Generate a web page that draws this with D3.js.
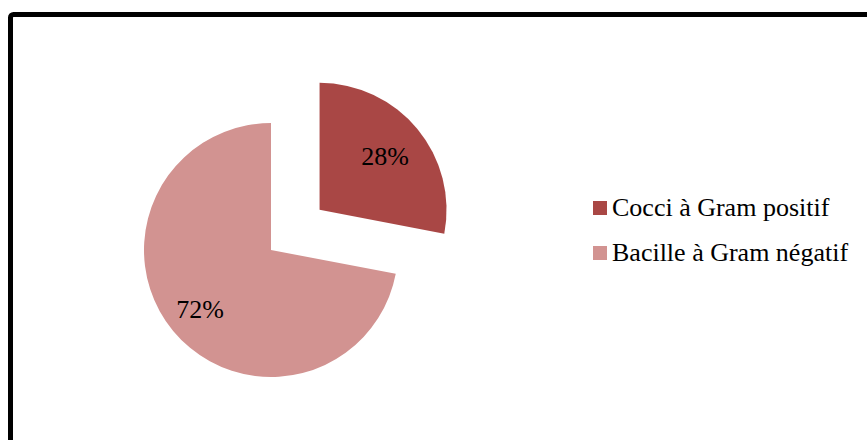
<!DOCTYPE html>
<html>
<head>
<meta charset="utf-8">
<script src="https://cdn.jsdelivr.net/npm/d3@7"></script>
<style>
  html, body { margin: 0; padding: 0; background: #fff; }
  svg { display: block; }
</style>
</head>
<body>
<svg id="chart" width="867" height="440"></svg>
<script>
// Data
const categories = ["Cocci à Gram positif", "Bacille à Gram négatif"];
const values = [28, 72];
const labels = ["28%", "72%"];
const colors = ["#A94745", "#D29391"];
const exploded = [true, false];

const svg = d3.select("#chart");
const font = "'Liberation Serif', 'Times New Roman', serif";

// Chart frame (runs past the right and bottom edges)
svg.append("rect")
  .attr("x", 10.5).attr("y", 14.5)
  .attr("width", 900).attr("height", 460)
  .attr("rx", 3)
  .attr("fill", "none")
  .attr("stroke", "#000")
  .attr("stroke-width", 5);

const cx = 271, cy = 250, radius = 127, explodeDist = 63;
const labelRadiusRatio = [0.67, 0.725];

const pie = d3.pie().sort(null).value(d => d)
  .startAngle(0).endAngle(2 * Math.PI);
const arcs = pie(values);
const arc = d3.arc().innerRadius(0).outerRadius(radius);

const g = svg.append("g").attr("transform", `translate(${cx},${cy})`);

const slices = g.selectAll("g.slice").data(arcs).join("g")
  .attr("class", "slice")
  .attr("transform", (d, i) => {
    if (!exploded[i]) return null;
    const mid = (d.startAngle + d.endAngle) / 2;
    return `translate(${Math.sin(mid) * explodeDist},${-Math.cos(mid) * explodeDist})`;
  });

slices.append("path")
  .attr("d", arc)
  .attr("fill", (d, i) => colors[i]);

// Percentage labels placed inside slices
slices.append("text")
  .attr("transform", (d, i) => {
    const r = radius * labelRadiusRatio[i];
    const c = d3.arc().innerRadius(r).outerRadius(r).centroid(d);
    return `translate(${c[0]},${c[1]})`;
  })
  .attr("text-anchor", "middle")
  .attr("dy", "0.35em")
  .attr("font-family", font)
  .attr("font-size", 26)
  .attr("fill", "#000")
  .text((d, i) => labels[i]);

// Legend
const legend = svg.append("g").attr("transform", "translate(593,201)");
const items = legend.selectAll("g").data(categories).join("g")
  .attr("transform", (d, i) => `translate(0,${i * 45})`);
items.append("rect")
  .attr("width", 14).attr("height", 14)
  .attr("fill", (d, i) => colors[i]);
items.append("text")
  .attr("x", 19).attr("y", 15)
  .attr("font-family", font)
  .attr("font-size", 26)
  .attr("fill", "#000")
  .text(d => d);
</script>
</body>
</html>
